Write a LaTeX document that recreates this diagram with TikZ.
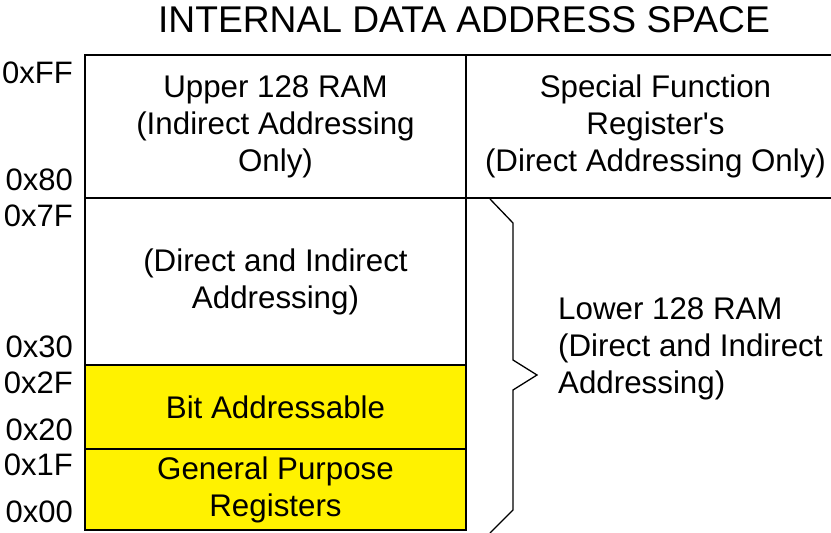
\documentclass[tikz,border=0pt]{standalone}
\usepackage{fontspec}
\setmainfont{Liberation Sans}
\begin{document}
\begin{tikzpicture}[x=1pt, y=-1pt,
        cell/.style={draw, line width=2pt, align=center, inner sep=0pt,
            font=\fontsize{31.3}{37}\selectfont},
        addr/.style={anchor=east, inner sep=0pt, font=\fontsize{31}{37}\selectfont}]
        \useasboundingbox (0,0) rectangle (831,533);

        % Title
        \node[font=\fontsize{37.2}{40}\selectfont] (title) at (464,20) {INTERNAL DATA ADDRESS SPACE};

        % Upper half
        \node[cell, minimum width=381, minimum height=143] (upper) at (275.5,126.5)
            {Upper 128 RAM\\(Indirect Addressing\\Only)};
        \node[cell, minimum width=379, minimum height=143] (sfr) at (655.5,126.5)
            {Special Function\\Register\textquotesingle s\\(Direct Addressing Only)};

        % Lower half
        \node[cell, minimum width=381, minimum height=167] (direct) at (275.5,281.5)
            {(Direct and Indirect\\Addressing)};
        \node[cell, fill=yellow, minimum width=381, minimum height=84] (bitaddr) at (275.5,407)
            {Bit Addressable};
        \node[cell, fill=yellow, minimum width=381, minimum height=81] (gpr) at (275.5,489.5)
            {General Purpose\\Registers};

        % Brace
        \draw[line width=1.3pt] (490,199) -- (513,223) -- (513,360) -- (537,375)
            -- (513,390) -- (513,510) -- (490,533);
        \node[anchor=west, align=left, inner sep=0pt, font=\fontsize{31.3}{37}\selectfont]
            (lower) at (558,349) {Lower 128 RAM\\(Direct and Indirect\\Addressing)};

        % Addresses
        \foreach \lab/\y in {0xFF/73, 0x80/180, 0x7F/216, 0x30/347,
                0x2F/383, 0x20/430, 0x1F/465, 0x00/512}
            \node[addr] (a\lab) at (73,\y) {\lab};
    \end{tikzpicture}
\end{document}
